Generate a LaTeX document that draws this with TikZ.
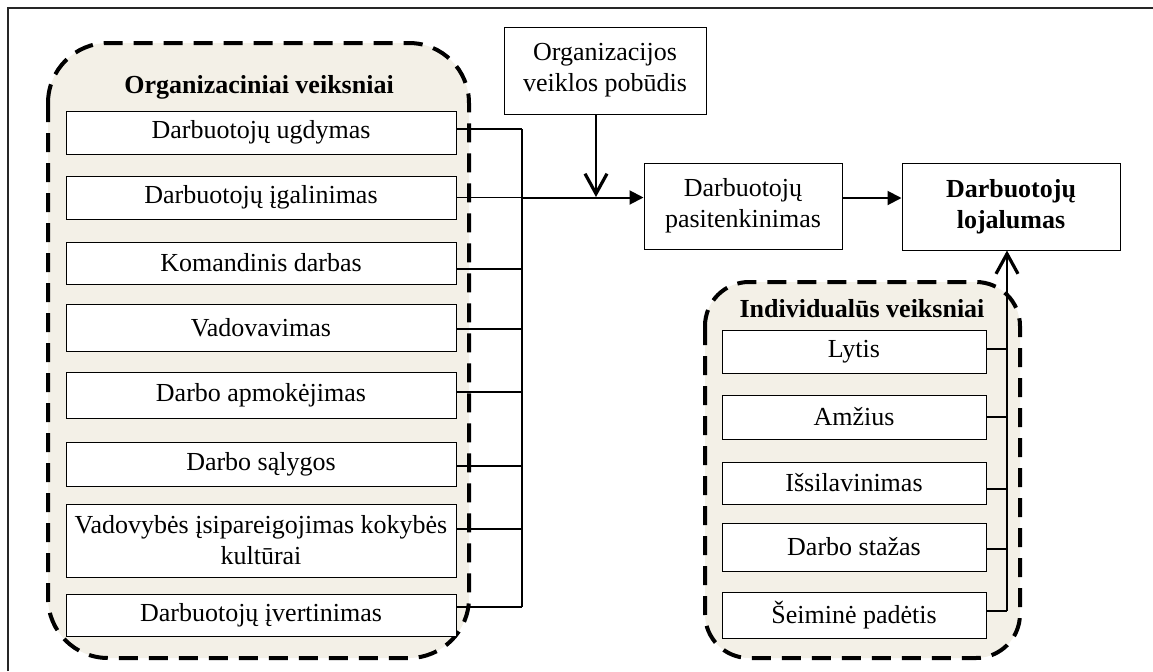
\documentclass[tikz,border=0pt]{standalone}
\usepackage{fontspec}
\setmainfont{Liberation Serif}
\usetikzlibrary{arrows.meta}
\definecolor{groupfill}{RGB}{243,240,231}

\begin{document}
\begin{tikzpicture}[x=0.5pt, y=-0.5pt,
        box/.style={draw, line width=0.5pt, fill=white, inner sep=0pt, align=center, font=\fontsize{13}{15.5}\selectfont},
        factor/.style={box, minimum width=195pt},
        ifactor/.style={box, minimum width=132pt},
        group/.style={draw, line width=2pt, dash pattern=on 9.5pt off 5.5pt, fill=groupfill},
        grouptitle/.style={font=\bfseries\fontsize{13}{15.5}\selectfont},
        link/.style={line width=0.6pt},
        flow/.style={line width=1pt, -{Triangle[length=7pt, width=7pt]}},
        open/.style={line width=1.1pt, -{Straight Barb[length=10pt, width=11pt, line width=1.6pt]}}]
        \useasboundingbox (0,0) rectangle (1153,671);

        % Frame (only top and left edge inside the page)
        \draw[line width=1pt, black!85] (8,671) -- (8,8) -- (1153,8);

        % Groups
        \draw[group, rounded corners=30pt] (48,43) rectangle (469,658);
        \draw[group, rounded corners=22pt] (705,282) rectangle (1020,658);
        \node[grouptitle] (orgtitle) at (259,87) {Organizaciniai veiksniai};
        \node[grouptitle] (indtitle) at (862,309) {Individualūs veiksniai};

        % Organizational factors
        \node[factor, minimum height=21.5pt] (f1) at (261,132.5) {Darbuotojų ugdymas};
        \node[factor, minimum height=21.5pt] (f2) at (261,197.5) {Darbuotojų įgalinimas};
        \node[factor, minimum height=21pt] (f3) at (261,263) {Komandinis darbas};
        \node[factor, minimum height=23.5pt] (f4) at (261,327.5) {Vadovavimas};
        \node[factor, minimum height=23pt] (f5) at (261,395) {Darbo apmokėjimas};
        \node[factor, minimum height=22pt] (f6) at (261,464) {Darbo sąlygos};
        \node[factor, minimum height=36.5pt] (f7) at (261,540.5) {Vadovybės įsipareigojimas kokybės\\kultūrai};
        \node[factor, minimum height=21pt] (f8) at (261,615) {Darbuotojų įvertinimas};

        % Individual factors
        \node[ifactor, minimum height=21.5pt] (i1) at (854,351.5) {Lytis};
        \node[ifactor, minimum height=22pt] (i2) at (854,417) {Amžius};
        \node[ifactor, minimum height=21pt] (i3) at (854,483) {Išsilavinimas};
        \node[ifactor, minimum height=24pt] (i4) at (854,547) {Darbo stažas};
        \node[ifactor, minimum height=23pt] (i5) at (854,615) {Šeiminė padėtis};

        % Main chain
        \node[box, minimum width=101pt, minimum height=43.5pt] (org) at (605,70.5) {Organizacijos\\veiklos pobūdis};
        \node[box, minimum width=99pt, minimum height=43pt] (sat) at (743,206) {Darbuotojų\\pasitenkinimas};
        \node[box, minimum width=109pt, minimum height=43.5pt, font=\bfseries\fontsize{13}{15.5}\selectfont] (loy) at (1011,206.5) {Darbuotojų\\lojalumas};

        % Connector points
        \coordinate (bus) at (522,129);
        \coordinate (rbus) at (1007,349);
        \coordinate (join) at (596,197);
        \coordinate (c1) at ([yshift=1.75pt]f1.east);
        \coordinate (c2) at (f2.east);
        \coordinate (c3) at ([yshift=-3pt]f3.east);
        \coordinate (c4) at ([yshift=-0.75pt]f4.east);
        \coordinate (c5) at ([yshift=1.5pt]f5.east);
        \coordinate (c6) at ([yshift=-1pt]f6.east);
        \coordinate (c7) at ([yshift=5.75pt]f7.east);
        \coordinate (c8) at ([yshift=4pt]f8.east);
        \coordinate (d1) at ([yshift=1.25pt]i1.east);
        \coordinate (d2) at (i2.east);
        \coordinate (d3) at ([yshift=-3pt]i3.east);
        \coordinate (d4) at ([yshift=-1pt]i4.east);
        \coordinate (d5) at ([yshift=2pt]i5.east);
        \coordinate (s) at ([yshift=4pt]sat.east);

        % Left bus
        \draw[link] (c1) -- (c1 -| bus);
        \draw[link] (c2) -- (c2 -| bus);
        \draw[link] (c3) -- (c3 -| bus);
        \draw[link] (c4) -- (c4 -| bus);
        \draw[link] (c5) -- (c5 -| bus);
        \draw[link] (c6) -- (c6 -| bus);
        \draw[link] (c7) -- (c7 -| bus);
        \draw[link] (c8) -- (c8 -| bus);
        \draw[line width=0.8pt] (c1 -| bus) -- (c8 -| bus);

        % Right bus
        \draw[link] (d1) -- (d1 -| rbus);
        \draw[link] (d2) -- (d2 -| rbus);
        \draw[link] (d3) -- (d3 -| rbus);
        \draw[link] (d4) -- (d4 -| rbus);
        \draw[link] (d5) -- (d5 -| rbus);

        % Arrows
        \draw[flow] (c2 -| bus) -- (c2 -| sat.west);
        \draw[open] (org.south -| join) -- (join);
        \draw[flow] (s) -- (s -| loy.west);
        \draw[open] (d5 -| rbus) -- (loy.south -| rbus);
    \end{tikzpicture}
\end{document}
